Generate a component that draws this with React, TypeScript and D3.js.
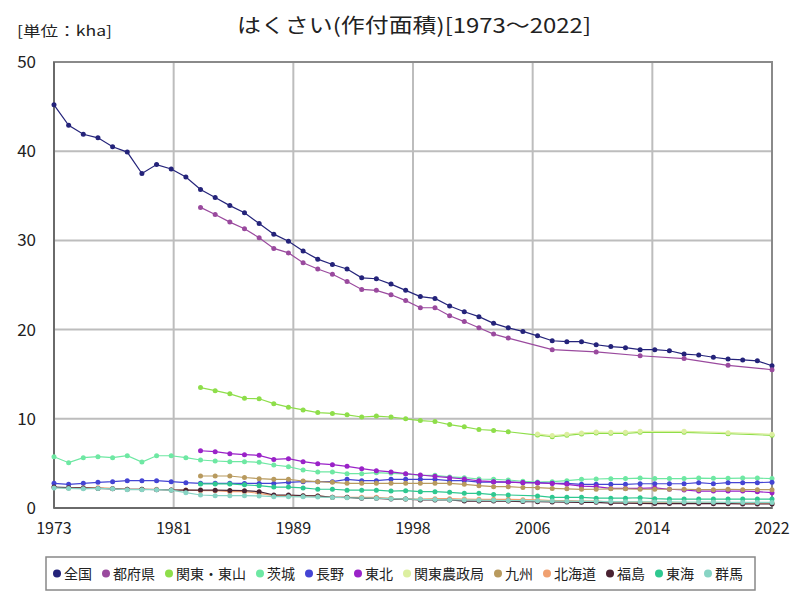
import React from 'react';
import * as d3 from 'd3';

const years: number[] = d3.range(1973, 2023);
const xTickLabels = ['1973', '1981', '1989', '1998', '2006', '2014', '2022'];
const yTicks = [0, 10, 20, 30, 40, 50];

const seriesNames = ['全国', '都府県', '関東・東山', '茨城', '長野', '東北', '関東農政局', '九州', '北海道', '福島', '東海', '群馬'];
const seriesColors = ['#24237a', '#9a4a9e', '#8ede4a', '#6ee8a3', '#4444d4', '#9a22c8', '#dcefa0', '#b89a5e', '#f0a070', '#4a2232', '#2fc890', '#88d4c4'];

const N = null;
const zenkoku = [45.2, 42.9, 41.9, 41.5, 40.5, 39.9, 37.5, 38.5, 38.0, 37.1, 35.7, 34.8, 33.9, 33.1, 31.9, 30.7, 29.9, 28.8, 27.9, 27.3, 26.8, 25.8, 25.7, 25.1, 24.4, 23.7, 23.5, 22.65, 22.0, 21.45, 20.7, 20.2, 19.8, 19.3, 18.75, 18.65, 18.65, 18.3, 18.1, 17.97, 17.75, 17.75, 17.63, 17.26, 17.15, 16.9, 16.7, 16.6, 16.5, 15.95];
const tofuken = [N, N, N, N, N, N, N, N, N, N, 33.7, 32.9, 32.05, 31.3, 30.3, 29.1, 28.6, 27.5, 26.8, 26.2, 25.4, 24.5, 24.4, 23.9, 23.25, 22.45, 22.45, 21.55, 20.9, 20.2, 19.5, 19.05, N, N, 17.75, N, N, 17.5, N, N, 17.07, N, N, 16.75, N, N, 16.0, N, N, 15.5];
const kantoTosan = [N, N, N, N, N, N, N, N, N, N, 13.5, 13.15, 12.8, 12.3, 12.25, 11.7, 11.3, 11.0, 10.7, 10.6, 10.45, 10.2, 10.3, 10.2, 10.0, 9.8, 9.7, 9.35, 9.1, 8.8, 8.7, 8.55, N, 8.18, 8.0, 8.15, 8.3, 8.4, 8.37, 8.37, 8.48, N, N, 8.48, N, N, 8.33, N, N, 8.15];
const ibaraki = [5.75, 5.08, 5.64, 5.75, 5.64, 5.86, 5.16, 5.86, 5.86, 5.64, 5.38, 5.27, 5.19, 5.19, 5.12, 4.82, 4.63, 4.26, 4.04, 4.04, 3.85, 3.85, 3.96, 3.89, 3.81, 3.65, 3.67, 3.48, 3.4, 3.25, 3.21, 3.14, 3.0, 2.91, 2.95, 3.06, 3.21, 3.25, 3.29, 3.3, 3.35, 3.3, 3.3, 3.3, 3.35, 3.33, 3.33, 3.35, 3.35, 3.3];
const nagano = [2.77, 2.65, 2.77, 2.88, 2.95, 3.06, 3.06, 3.06, 2.95, 2.84, 2.77, 2.77, 2.77, 2.75, 2.75, 2.75, 2.88, 2.95, 2.95, 2.95, 3.21, 3.06, 3.06, 3.21, 3.21, 3.21, 3.21, 3.06, 3.06, 2.91, 2.91, 2.91, 2.84, 2.84, 2.77, 2.77, 2.65, 2.65, 2.65, 2.65, 2.72, 2.72, 2.72, 2.72, 2.84, 2.72, 2.84, 2.84, 2.84, 2.9];
const tohoku = [N, N, N, N, N, N, N, N, N, N, 6.42, 6.31, 6.09, 5.98, 5.9, 5.45, 5.53, 5.19, 4.97, 4.86, 4.67, 4.41, 4.18, 4.04, 3.85, 3.7, 3.55, 3.4, 3.25, 3.05, 2.95, 2.9, 2.85, 2.8, 2.75, 2.65, 2.45, 2.4, 2.2, 2.2, 2.2, 2.25, 2.1, 2.02, 1.9, 1.9, 1.9, 1.9, 1.83, 1.72];
const kantoNoseikyoku = [N, N, N, N, N, N, N, N, N, N, N, N, N, N, N, N, N, N, N, N, N, N, N, N, N, N, N, N, N, N, N, N, N, 8.3, 8.12, 8.27, 8.42, 8.52, 8.49, 8.49, 8.6, N, N, 8.6, N, N, 8.45, N, N, 8.27];
const kyushu = [N, N, N, N, N, N, N, N, N, N, 3.59, 3.59, 3.59, 3.42, 3.29, 3.21, 3.21, 3.03, 2.95, 2.88, 2.77, 2.77, 2.77, 2.77, 2.77, 2.77, 2.77, 2.77, 2.65, 2.5, 2.39, 2.39, 2.3, 2.28, 2.2, 2.15, 2.09, 2.1, 2.15, 2.15, 2.1, 2.1, 2.1, 2.1, 2.05, 2.05, 2.1, 2.05, 2.05, 2.05];
const hokkaido = [2.3, 2.25, 2.25, 2.28, 2.2, 2.1, 2.1, 2.1, 2.02, 2.02, 1.94, 1.94, 1.83, 1.83, 1.64, 1.38, 1.38, 1.35, 1.35, 1.2, 1.2, 1.2, 1.2, 1.08, 1.0, 1.0, 1.05, 1.05, 1.0, 0.97, 0.97, 0.97, 0.93, 0.9, 0.82, 0.82, 0.78, 0.78, 0.67, 0.67, 0.65, 0.62, 0.6, 0.6, 0.58, 0.58, 0.55, 0.55, 0.55, 0.55];
const fukushima = [2.35, 2.28, 2.25, 2.2, 2.15, 2.1, 2.1, 2.05, 2.02, 2.0, 2.02, 2.0, 1.97, 1.94, 1.83, 1.46, 1.46, 1.38, 1.35, 1.2, 1.2, 1.08, 1.08, 1.0, 1.0, 0.9, 0.9, 0.9, 0.78, 0.78, 0.78, 0.78, 0.72, 0.7, 0.68, 0.66, 0.64, 0.64, 0.55, 0.55, 0.52, 0.5, 0.5, 0.5, 0.5, 0.48, 0.48, 0.45, 0.45, 0.45];
const tokai = [N, N, N, N, N, N, N, N, N, N, 2.7, 2.7, 2.7, 2.6, 2.5, 2.35, 2.35, 2.25, 2.1, 2.1, 2.0, 2.0, 2.0, 1.9, 1.94, 1.83, 1.83, 1.76, 1.64, 1.64, 1.5, 1.46, N, 1.35, 1.2, 1.2, 1.2, 1.1, 1.1, 1.1, 1.15, 1.05, 1.0, 1.0, 1.0, 1.0, 1.0, 1.0, 1.0, 1.0];
const gunma = [2.25, 2.2, 2.15, 2.2, 2.15, 2.05, 2.05, 2.05, 2.0, 1.72, 1.46, 1.38, 1.38, 1.38, 1.35, 1.27, 1.27, 1.25, 1.22, 1.18, 1.15, 1.12, 1.1, 1.05, 1.0, 0.97, 0.95, 0.92, 0.9, 0.88, 0.86, 0.84, 0.82, 0.8, 0.78, 0.76, 0.75, 0.74, 0.72, 0.7, 0.7, 0.68, 0.68, 0.66, 0.66, 0.65, 0.64, 0.63, 0.62, 0.62];

const seriesValues = [zenkoku, tofuken, kantoTosan, ibaraki, nagano, tohoku, kantoNoseikyoku, kyushu, hokkaido, fukushima, tokai, gunma];

const FONT = '"Noto Sans CJK JP", "Noto Sans", sans-serif';

export default function App() {
  const left = 54, right = 772, top = 62, bottom = 508;
  const x = d3.scaleLinear().domain([1973, 2022]).range([left, right]);
  const y = d3.scaleLinear().domain([0, 50]).range([bottom, top]);
  const nDiv = xTickLabels.length - 1;
  const gridYears = xTickLabels.map((_, i) => 1973 + (i * (2022 - 1973)) / nDiv);

  const line = d3.line<{ yr: number; v: number }>().x(d => x(d.yr)).y(d => y(d.v));

  const series = seriesNames.map((name, i) => ({
    name,
    color: seriesColors[i],
    pts: years.map((yr, j) => ({ yr, v: seriesValues[i][j] as number | null })).filter(p => p.v !== null) as { yr: number; v: number }[],
  }));

  // legend layout
  const lfs = 14;
  let lx = 57;
  const legendItems = seriesNames.map((name, i) => {
    const item = { name, color: seriesColors[i], x: lx };
    lx += 7 + name.length * lfs + 14;
    return item;
  });

  return (
    <svg width={800} height={600} style={{ position: 'absolute', left: 0, top: 0, background: '#fff' }} fontFamily={FONT}>
      <rect x={0} y={0} width={800} height={600} fill="#fff" />
      <text x={414} y={33} fontSize={20} textAnchor="middle" fill="#222" textLength={354} lengthAdjust="spacingAndGlyphs">はくさい(作付面積)[1973～2022]</text>
      <text x={17} y={36} fontSize={14} fill="#222" textLength={95} lengthAdjust="spacingAndGlyphs">[単位：kha]</text>

      {/* horizontal grid */}
      {yTicks.filter(t => t > 0 && t < 50).map(t => (
        <line key={'h' + t} x1={left} x2={right} y1={y(t)} y2={y(t)} stroke="#bdbdbd" strokeWidth={2} />
      ))}
      {gridYears.slice(1, -1).map((g, i) => (
        <line key={'v' + i} x1={x(g)} x2={x(g)} y1={top} y2={bottom} stroke="#bdbdbd" strokeWidth={2} />
      ))}
      {/* frame */}
      <rect x={left} y={top} width={right - left} height={bottom - top} fill="none" stroke="#8a8a8a" strokeWidth={2} />
      <line x1={left} x2={left} y1={top} y2={bottom} stroke="#6a6a6a" strokeWidth={2} />
      <line x1={left} x2={right} y1={bottom} y2={bottom} stroke="#6a6a6a" strokeWidth={2} />

      {/* y labels */}
      {yTicks.map(t => (
        <text key={'yl' + t} x={36} y={y(t) + 6} fontSize={17} textAnchor="end" fill="#222">{t}</text>
      ))}
      {/* x labels */}
      {xTickLabels.map((lab, i) => (
        <text key={'xl' + i} x={x(gridYears[i])} y={534} fontSize={16} textAnchor="middle" fill="#222">{lab}</text>
      ))}

      {/* series */}
      {series.map(s => (
        <g key={s.name}>
          <path d={line(s.pts) || ''} fill="none" stroke={s.color} strokeWidth={1.2} />
          {s.pts.map((p, k) => (
            <circle key={k} cx={x(p.yr)} cy={y(p.v)} r={2.5} fill={s.color} />
          ))}
        </g>
      ))}

      {/* legend */}
      <rect x={46} y={557} width={709} height={33} fill="#fff" stroke="#888" strokeWidth={1.5} />
      {legendItems.map(it => (
        <g key={it.name}>
          <circle cx={it.x} cy={573.5} r={4} fill={it.color} />
          <text x={it.x + 7} y={579} fontSize={lfs} fill="#222">{it.name}</text>
        </g>
      ))}
    </svg>
  );
}
